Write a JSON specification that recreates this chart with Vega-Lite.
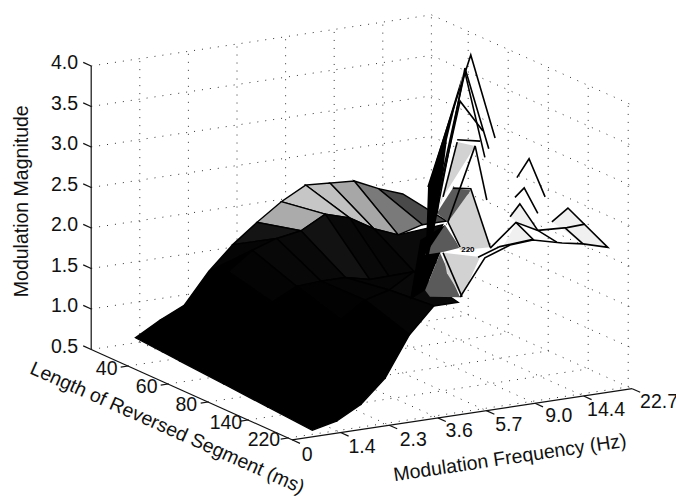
{"$schema":"https://vega.github.io/schema/vega-lite/v6.json","width":676,"height":498,"autosize":{"type":"none"},"padding":0,"background":"white","config":{"view":{"stroke":null}},
"datasets":{
"walls":[
{"f":0,"l":0.08,"m":1,"f2":7,"l2":0.08,"m2":1},{"f":0,"l":0.08,"m":1.5,"f2":7,"l2":0.08,"m2":1.5},{"f":0,"l":0.08,"m":2,"f2":7,"l2":0.08,"m2":2},{"f":0,"l":0.08,"m":2.5,"f2":7,"l2":0.08,"m2":2.5},{"f":0,"l":0.08,"m":3,"f2":7,"l2":0.08,"m2":3},{"f":0,"l":0.08,"m":3.5,"f2":7,"l2":0.08,"m2":3.5},{"f":0,"l":0.08,"m":4,"f2":7,"l2":0.08,"m2":4},{"f":0,"l":0.08,"m":0.5,"f2":7,"l2":0.08,"m2":0.5},
{"f":7,"l":0.08,"m":0.5,"f2":7,"l2":5.1,"m2":0.5},{"f":7,"l":0.08,"m":1,"f2":7,"l2":5.1,"m2":1},{"f":7,"l":0.08,"m":1.5,"f2":7,"l2":5.1,"m2":1.5},{"f":7,"l":0.08,"m":2,"f2":7,"l2":5.1,"m2":2},{"f":7,"l":0.08,"m":2.5,"f2":7,"l2":5.1,"m2":2.5},{"f":7,"l":0.08,"m":3,"f2":7,"l2":5.1,"m2":3},{"f":7,"l":0.08,"m":3.5,"f2":7,"l2":5.1,"m2":3.5},{"f":7,"l":0.08,"m":4,"f2":7,"l2":5.1,"m2":4},
{"f":1,"l":0.08,"m":0.5,"f2":1,"l2":0.08,"m2":4},{"f":2,"l":0.08,"m":0.5,"f2":2,"l2":0.08,"m2":4},{"f":3,"l":0.08,"m":0.5,"f2":3,"l2":0.08,"m2":4},{"f":4,"l":0.08,"m":0.5,"f2":4,"l2":0.08,"m2":4},{"f":5,"l":0.08,"m":0.5,"f2":5,"l2":0.08,"m2":4},{"f":6,"l":0.08,"m":0.5,"f2":6,"l2":0.08,"m2":4},{"f":7,"l":0.08,"m":0.5,"f2":7,"l2":0.08,"m2":4},
{"f":7,"l":1,"m":0.5,"f2":7,"l2":1,"m2":4},{"f":7,"l":2,"m":0.5,"f2":7,"l2":2,"m2":4},{"f":7,"l":3,"m":0.5,"f2":7,"l2":3,"m2":4},{"f":7,"l":4,"m":0.5,"f2":7,"l2":4,"m2":4},{"f":7,"l":5,"m":0.5,"f2":7,"l2":5,"m2":4},
{"f":1,"l":0.08,"m":0.5,"f2":1,"l2":5.1,"m2":0.5},{"f":2,"l":0.08,"m":0.5,"f2":2,"l2":5.1,"m2":0.5},{"f":3,"l":0.08,"m":0.5,"f2":3,"l2":5.1,"m2":0.5},{"f":4,"l":0.08,"m":0.5,"f2":4,"l2":5.1,"m2":0.5},{"f":5,"l":0.08,"m":0.5,"f2":5,"l2":5.1,"m2":0.5},{"f":6,"l":0.08,"m":0.5,"f2":6,"l2":5.1,"m2":0.5},
{"f":0,"l":1,"m":0.5,"f2":7,"l2":1,"m2":0.5},{"f":0,"l":2,"m":0.5,"f2":7,"l2":2,"m2":0.5},{"f":0,"l":3,"m":0.5,"f2":7,"l2":3,"m2":0.5},{"f":0,"l":4,"m":0.5,"f2":7,"l2":4,"m2":0.5},{"f":0,"l":5,"m":0.5,"f2":7,"l2":5,"m2":0.5}
],
"axes":[
{"f":0,"l":0.08,"m":0.5,"f2":0,"l2":0.08,"m2":4},{"f":0,"l":0.08,"m":0.5,"f2":0,"l2":5.1,"m2":0.5},{"f":0,"l":5.1,"m":0.5,"f2":7,"l2":5.1,"m2":0.5},
{"f":0,"l":0.08,"m":0.5,"f2":0,"l2":-0.12,"m2":0.5},{"f":0,"l":0.08,"m":1,"f2":0,"l2":-0.12,"m2":1},{"f":0,"l":0.08,"m":1.5,"f2":0,"l2":-0.12,"m2":1.5},{"f":0,"l":0.08,"m":2,"f2":0,"l2":-0.12,"m2":2},{"f":0,"l":0.08,"m":2.5,"f2":0,"l2":-0.12,"m2":2.5},{"f":0,"l":0.08,"m":3,"f2":0,"l2":-0.12,"m2":3},{"f":0,"l":0.08,"m":3.5,"f2":0,"l2":-0.12,"m2":3.5},{"f":0,"l":0.08,"m":4,"f2":0,"l2":-0.12,"m2":4},
{"f":0,"l":1,"m":0.5,"f2":-0.15,"l2":1,"m2":0.5},{"f":0,"l":2,"m":0.5,"f2":-0.15,"l2":2,"m2":0.5},{"f":0,"l":3,"m":0.5,"f2":-0.15,"l2":3,"m2":0.5},{"f":0,"l":4,"m":0.5,"f2":-0.15,"l2":4,"m2":0.5},{"f":0,"l":5,"m":0.5,"f2":-0.15,"l2":5,"m2":0.5},
{"f":0,"l":5.1,"m":0.5,"f2":0,"l2":5.3,"m2":0.5},{"f":1,"l":5.1,"m":0.5,"f2":1,"l2":5.3,"m2":0.5},{"f":2,"l":5.1,"m":0.5,"f2":2,"l2":5.3,"m2":0.5},{"f":3,"l":5.1,"m":0.5,"f2":3,"l2":5.3,"m2":0.5},{"f":4,"l":5.1,"m":0.5,"f2":4,"l2":5.3,"m2":0.5},{"f":5,"l":5.1,"m":0.5,"f2":5,"l2":5.3,"m2":0.5},{"f":6,"l":5.1,"m":0.5,"f2":6,"l2":5.3,"m2":0.5},{"f":7,"l":5.1,"m":0.5,"f2":7,"l2":5.3,"m2":0.5}
],
"grid":[
{"r":0,"k":11,"f":6,"l":0.58,"m":1.99},{"r":0,"k":10,"f":5.5,"l":0.58,"m":2.10},{"r":0,"k":9,"f":5,"l":0.58,"m":2.24},{"r":0,"k":8,"f":4.5,"l":0.58,"m":2.26},{"r":0,"k":7,"f":4,"l":0.58,"m":2.28},{"r":0,"k":6,"f":3.5,"l":0.58,"m":2.12},{"r":0,"k":5,"f":3,"l":0.58,"m":1.91},{"r":0,"k":4,"f":2.5,"l":0.58,"m":1.68},{"r":0,"k":3,"f":2,"l":0.58,"m":1.39},{"r":0,"k":2,"f":1.5,"l":0.58,"m":1.02},{"r":0,"k":1,"f":1,"l":0.58,"m":0.88},{"r":0,"k":0,"f":0.5,"l":0.58,"m":0.71},
{"r":1,"k":11,"f":6,"l":1.68,"m":1.90},{"r":1,"k":10,"f":5.5,"l":1.68,"m":1.90},{"r":1,"k":9,"f":5,"l":1.68,"m":1.82},{"r":1,"k":8,"f":4.5,"l":1.68,"m":1.94},{"r":1,"k":7,"f":4,"l":1.68,"m":2.12},{"r":1,"k":6,"f":3.5,"l":1.68,"m":2.21},{"r":1,"k":5,"f":3,"l":1.68,"m":2.05},{"r":1,"k":4,"f":2.5,"l":1.68,"m":2.00},{"r":1,"k":3,"f":2,"l":1.68,"m":1.90},{"r":1,"k":2,"f":1.5,"l":1.68,"m":1.68},{"r":1,"k":1,"f":1,"l":1.68,"m":1.38},{"r":1,"k":0,"f":0.5,"l":1.68,"m":0.67},
{"r":2,"k":9,"f":5,"l":2.79,"m":2.19},{"r":2,"k":8,"f":4.5,"l":2.79,"m":1.60},{"r":2,"k":7,"f":4,"l":2.79,"m":1.55},{"r":2,"k":6,"f":3.5,"l":2.79,"m":1.65},{"r":2,"k":5,"f":3,"l":2.79,"m":1.72},{"r":2,"k":4,"f":2.5,"l":2.79,"m":1.72},{"r":2,"k":3,"f":2,"l":2.79,"m":1.70},{"r":2,"k":2,"f":1.5,"l":2.79,"m":1.55},{"r":2,"k":1,"f":1,"l":2.79,"m":1.31},{"r":2,"k":0,"f":0.5,"l":2.79,"m":0.63},
{"r":3,"k":7,"f":4,"l":3.89,"m":2.07},{"r":3,"k":6,"f":3.5,"l":3.89,"m":1.99},{"r":3,"k":5,"f":3,"l":3.89,"m":1.81},{"r":3,"k":4,"f":2.5,"l":3.89,"m":1.73},{"r":3,"k":3,"f":2,"l":3.89,"m":1.53},{"r":3,"k":2,"f":1.5,"l":3.89,"m":1.27},{"r":3,"k":1,"f":1,"l":3.89,"m":0.98},{"r":3,"k":0,"f":0.5,"l":3.89,"m":0.59},
{"r":4,"k":6,"f":3.5,"l":5,"m":1.86},{"r":4,"k":5,"f":3,"l":5,"m":1.86},{"r":4,"k":4,"f":2.5,"l":5,"m":1.55},{"r":4,"k":3,"f":2,"l":5,"m":1.06},{"r":4,"k":2,"f":1.5,"l":5,"m":0.78},{"r":4,"k":1,"f":1,"l":5,"m":0.62},{"r":4,"k":0,"f":0.5,"l":5,"m":0.55}
],
"patches":[
{"p":"fill","tone":"black","o":0,"f":5.19,"l":2,"m":1.81},{"p":"fill","tone":"black","o":1,"f":5.70,"l":2,"m":1.95},{"p":"fill","tone":"black","o":2,"f":5.60,"l":2,"m":1.61},{"p":"fill","tone":"black","o":3,"f":5.29,"l":2,"m":1.18},{"p":"fill","tone":"black","o":4,"f":4.98,"l":2,"m":1.09},
{"p":"p6","tone":"dark","o":0,"f":5.60,"l":2,"m":1.61},{"p":"p6","tone":"dark","o":1,"f":6.01,"l":2,"m":1.03},{"p":"p6","tone":"dark","o":2,"f":5.39,"l":2,"m":1.09},{"p":"p6","tone":"dark","o":3,"f":5.29,"l":2,"m":1.18},
{"p":"p5","tone":"light","o":0,"f":5.66,"l":2,"m":1.61},{"p":"p5","tone":"light","o":1,"f":6.42,"l":2,"m":1.49},{"p":"p5","tone":"light","o":2,"f":6.05,"l":2,"m":1.03},{"p":"p5","tone":"light","o":3,"f":5.74,"l":2,"m":1.35},
{"p":"p4","tone":"dark","o":0,"f":5.70,"l":2,"m":1.95},{"p":"p4","tone":"dark","o":1,"f":6.01,"l":2,"m":1.64},{"p":"p4","tone":"dark","o":2,"f":5.66,"l":2,"m":1.62},{"p":"p4","tone":"dark","o":3,"f":5.29,"l":2,"m":1.62},
{"p":"p3","tone":"light","o":0,"f":6.23,"l":2,"m":2.33},{"p":"p3","tone":"light","o":1,"f":6.63,"l":2,"m":1.59},{"p":"p3","tone":"light","o":2,"f":6.01,"l":2,"m":1.61},{"p":"p3","tone":"light","o":3,"f":5.76,"l":2,"m":1.98},
{"p":"p2","tone":"dark","o":0,"f":5.86,"l":2,"m":2.39},{"p":"p2","tone":"dark","o":1,"f":6.23,"l":2,"m":2.33},{"p":"p2","tone":"dark","o":2,"f":5.76,"l":2,"m":1.98},{"p":"p2","tone":"dark","o":3,"f":5.53,"l":2,"m":2.11},
{"p":"p1","tone":"light","o":0,"f":5.95,"l":2,"m":2.95},{"p":"p1","tone":"light","o":1,"f":6.32,"l":2,"m":2.87},{"p":"p1","tone":"light","o":2,"f":5.66,"l":2,"m":2.30},{"p":"p1","tone":"light","o":3,"f":5.56,"l":2,"m":2.15},
{"p":"p7","tone":"pale","o":0,"f":4.71,"l":5,"m":2.74},{"p":"p7","tone":"pale","o":1,"f":5.04,"l":5,"m":2.51},{"p":"p7","tone":"pale","o":2,"f":4.42,"l":5,"m":2.46},
{"p":"p8","tone":"pale","o":0,"f":5.76,"l":5,"m":2.82},{"p":"p8","tone":"pale","o":1,"f":6.56,"l":5,"m":2.27},{"p":"p8","tone":"pale","o":2,"f":6.07,"l":5,"m":2.35},{"p":"p8","tone":"pale","o":3,"f":5.66,"l":5,"m":2.56},{"p":"p8","tone":"pale","o":4,"f":5.43,"l":5,"m":2.68},
{"p":"p9","tone":"pale","o":0,"f":4.77,"l":5,"m":2.97},{"p":"p9","tone":"pale","o":1,"f":5.14,"l":5,"m":2.60},{"p":"p9","tone":"pale","o":2,"f":4.71,"l":5,"m":2.74},{"p":"p9","tone":"pale","o":3,"f":4.57,"l":5,"m":2.82},
{"p":"band","tone":"black","o":0,"f":5.35,"l":2,"m":2.45},{"p":"band","tone":"black","o":1,"f":6.07,"l":2,"m":3.79},{"p":"band","tone":"black","o":2,"f":5.74,"l":2,"m":3.00},{"p":"band","tone":"black","o":3,"f":5.56,"l":2,"m":2.15},{"p":"band","tone":"black","o":4,"f":5.29,"l":2,"m":1.39}
],
"ridges":[
{"id":"a","o":0,"f":5.35,"l":2,"m":2.45},{"id":"a","o":1,"f":6.23,"l":2,"m":4.00},{"id":"a","o":2,"f":6.73,"l":2,"m":2.93},
{"id":"b","o":0,"f":5.53,"l":2,"m":2.11},{"id":"b","o":1,"f":6.11,"l":2,"m":3.85},{"id":"b","o":2,"f":6.60,"l":2,"m":2.81},
{"id":"c","o":0,"f":5.39,"l":2,"m":1.91},{"id":"c","o":1,"f":6.11,"l":2,"m":3.80},{"id":"c","o":2,"f":6.52,"l":2,"m":2.71},
{"id":"d","o":0,"f":5.60,"l":2,"m":2.39},{"id":"d","o":1,"f":6.01,"l":2,"m":3.45},{"id":"d","o":2,"f":6.48,"l":2,"m":3.04},
{"id":"e","o":0,"f":5.95,"l":2,"m":2.98},{"id":"e","o":1,"f":6.42,"l":2,"m":2.92},
{"id":"f","o":0,"f":6.32,"l":2,"m":2.87},{"id":"f","o":1,"f":6.56,"l":2,"m":2.18},
{"id":"g","o":0,"f":5.86,"l":2,"m":2.39},{"id":"g","o":1,"f":6.23,"l":2,"m":2.35},{"id":"g","o":2,"f":6.63,"l":2,"m":1.59},
{"id":"h","o":0,"f":6.63,"l":2,"m":1.58},{"id":"h","o":1,"f":4.69,"l":5,"m":2.74},{"id":"h","o":2,"f":5.14,"l":5,"m":2.60},{"id":"h","o":3,"f":5.53,"l":5,"m":2.42},
{"id":"i","o":0,"f":6.38,"l":2,"m":1.49},{"id":"i","o":1,"f":4.36,"l":5,"m":2.47},{"id":"i","o":2,"f":5.04,"l":5,"m":2.50},{"id":"i","o":3,"f":4.69,"l":5,"m":2.74},
{"id":"j","o":0,"f":6.01,"l":2,"m":1.03},{"id":"j","o":1,"f":6.52,"l":2,"m":1.47},{"id":"j","o":2,"f":4.57,"l":5,"m":2.47},{"id":"j","o":3,"f":5.04,"l":5,"m":2.49},{"id":"j","o":4,"f":5.64,"l":5,"m":2.40},{"id":"j","o":5,"f":6.07,"l":5,"m":2.35},{"id":"j","o":6,"f":6.58,"l":5,"m":2.26},{"id":"j","o":7,"f":5.76,"l":5,"m":2.82},{"id":"j","o":8,"f":5.43,"l":5,"m":2.68},
{"id":"k","o":0,"f":4.71,"l":5,"m":3.29},{"id":"k","o":1,"f":4.96,"l":5,"m":3.50},{"id":"k","o":2,"f":5.29,"l":5,"m":3.00},
{"id":"m","o":0,"f":4.67,"l":5,"m":3.05},{"id":"m","o":1,"f":4.86,"l":5,"m":3.15},{"id":"m","o":2,"f":5.14,"l":5,"m":2.81},
{"id":"n","o":0,"f":4.57,"l":5,"m":2.82},{"id":"n","o":1,"f":4.77,"l":5,"m":2.96},{"id":"n","o":2,"f":5.14,"l":5,"m":2.60},
{"id":"p","o":0,"f":5.14,"l":5,"m":2.60},{"id":"p","o":1,"f":5.74,"l":5,"m":2.58},{"id":"p","o":2,"f":6.11,"l":5,"m":2.59},
{"id":"q","o":0,"f":5.70,"l":5,"m":2.58},{"id":"q","o":1,"f":6.07,"l":5,"m":2.35},
{"id":"s","o":0,"f":5.95,"l":2,"m":2.95},{"id":"s","o":1,"f":5.66,"l":2,"m":2.30},
{"id":"t","o":0,"f":6.32,"l":2,"m":2.87},{"id":"t","o":1,"f":5.76,"l":2,"m":1.98},{"id":"t","o":2,"f":6.01,"l":2,"m":1.65},
{"id":"u","o":0,"f":5.66,"l":2,"m":1.61},{"id":"u","o":1,"f":6.05,"l":2,"m":1.03}
],
"labels":[
{"t":"ztick","s":"0.5","f":0,"l":-0.25,"m":0.5},{"t":"ztick","s":"1.0","f":0,"l":-0.25,"m":1},{"t":"ztick","s":"1.5","f":0,"l":-0.25,"m":1.5},{"t":"ztick","s":"2.0","f":0,"l":-0.25,"m":2},{"t":"ztick","s":"2.5","f":0,"l":-0.25,"m":2.5},{"t":"ztick","s":"3.0","f":0,"l":-0.25,"m":3},{"t":"ztick","s":"3.5","f":0,"l":-0.25,"m":3.5},{"t":"ztick","s":"4.0","f":0,"l":-0.25,"m":4},
{"t":"tick","s":"40","f":-0.43,"l":0.99,"m":0.5},{"t":"tick","s":"60","f":-0.43,"l":1.99,"m":0.5},{"t":"tick","s":"80","f":-0.43,"l":2.98,"m":0.5},{"t":"tick","s":"140","f":-0.43,"l":3.97,"m":0.5},{"t":"tick","s":"220","f":-0.43,"l":4.92,"m":0.5},
{"t":"tick","s":"0","f":-0.29,"l":5.83,"m":0.5},{"t":"tick","s":"1.4","f":0.83,"l":5.84,"m":0.5},{"t":"tick","s":"2.3","f":1.86,"l":5.87,"m":0.5},{"t":"tick","s":"3.6","f":2.88,"l":5.78,"m":0.5},{"t":"tick","s":"5.7","f":3.85,"l":5.84,"m":0.5},{"t":"tick","s":"9.0","f":4.93,"l":5.78,"m":0.5},{"t":"tick","s":"14.4","f":5.87,"l":5.82,"m":0.5},{"t":"tick","s":"22.7","f":6.96,"l":5.82,"m":0.5},
{"t":"ztitle","s":"Modulation Magnitude","f":0,"l":-1.65,"m":1.945},
{"t":"ltitle","s":"Length of Reversed Segment (ms)","f":-1.52,"l":3.83,"m":0.5},
{"t":"ftitle","s":"Modulation Frequency (Hz)","f":2.74,"l":7.22,"m":0.5},
{"t":"small","s":"220","f":6.17,"l":2,"m":1.6}
]
},
"encoding":{
"x":{"field":"px","type":"quantitative","scale":{"domain":[0,676]},"axis":null},
"y":{"field":"py","type":"quantitative","scale":{"domain":[498,0]},"axis":null}
},
"layer":[
{"data":{"name":"walls"},"transform":[{"calculate":"88+40*datum.l+48.6*datum.f","as":"px"},{"calculate":"348+18*datum.l-7.3*datum.f-81*(datum.m-0.5)","as":"py"},{"calculate":"88+40*datum.l2+48.6*datum.f2","as":"px2"},{"calculate":"348+18*datum.l2-7.3*datum.f2-81*(datum.m2-0.5)","as":"py2"}],
"mark":{"type":"rule","stroke":"#333333","strokeWidth":1,"strokeDash":[1,7]},"encoding":{"x2":{"field":"px2"},"y2":{"field":"py2"}}},
{"data":{"name":"axes"},"transform":[{"calculate":"88+40*datum.l+48.6*datum.f","as":"px"},{"calculate":"348+18*datum.l-7.3*datum.f-81*(datum.m-0.5)","as":"py"},{"calculate":"88+40*datum.l2+48.6*datum.f2","as":"px2"},{"calculate":"348+18*datum.l2-7.3*datum.f2-81*(datum.m2-0.5)","as":"py2"}],
"mark":{"type":"rule","stroke":"#111111","strokeWidth":1.2},"encoding":{"x2":{"field":"px2"},"y2":{"field":"py2"}}},
{"data":{"name":"grid"},"transform":[
{"calculate":"[0,1,2,3]","as":"cs"},{"flatten":["cs"]},
{"calculate":"datum.r+(datum.cs>=2?1:0)","as":"cellR"},
{"calculate":"datum.k+((datum.cs==1||datum.cs==2)?1:0)","as":"cellK"},
{"filter":"datum.cellR>=1 && datum.cellR<=4 && datum.cellK>=1 && datum.cellK<=[0,11,9,7,6][datum.cellR]"},
{"calculate":"'c'+datum.cellR+'_'+datum.cellK","as":"cell"},
{"joinaggregate":[{"op":"mean","field":"m","as":"shade"}],"groupby":["cell"]},
{"calculate":"88+40*datum.l+48.6*datum.f","as":"px"},{"calculate":"348+18*datum.l-7.3*datum.f-81*(datum.m-0.5)","as":"py"}],
"mark":{"type":"line","interpolate":"linear-closed","stroke":"#000000","strokeWidth":1.4},
"encoding":{"detail":{"field":"cell"},"order":{"field":"cs"},
"fill":{"field":"shade","type":"quantitative","legend":null,"scale":{"domain":[0.5,1.6,1.9,1.96,2.04,2.1,2.2,4],"range":["#000000","#000000","#0a0a0a","#3c3c3c","#999999","#bbbbbb","#c8c8c8","#ffffff"]}}}},
{"data":{"name":"patches"},"transform":[{"calculate":"88+40*datum.l+48.6*datum.f","as":"px"},{"calculate":"348+18*datum.l-7.3*datum.f-81*(datum.m-0.5)","as":"py"}],
"mark":{"type":"line","interpolate":"linear-closed","strokeWidth":0},
"encoding":{"detail":{"field":"p"},"order":{"field":"o"},
"fill":{"field":"tone","type":"nominal","legend":null,"scale":{"domain":["black","dark","light","pale"],"range":["#000000","#5a5a5a","#d2d2d2","#f0f0f0"]}}}},
{"data":{"name":"ridges"},"transform":[{"calculate":"88+40*datum.l+48.6*datum.f","as":"px"},{"calculate":"348+18*datum.l-7.3*datum.f-81*(datum.m-0.5)","as":"py"}],
"mark":{"type":"line","stroke":"#000000","strokeWidth":1.6},
"encoding":{"detail":{"field":"id"},"order":{"field":"o"}}},
{"data":{"name":"labels"},"transform":[{"filter":"datum.t=='ztick'"},{"calculate":"88+40*datum.l+48.6*datum.f","as":"px"},{"calculate":"348+18*datum.l-7.3*datum.f-81*(datum.m-0.5)","as":"py"}],
"mark":{"type":"text","align":"right","baseline":"middle","dy":3,"font":"Liberation Sans","fontSize":19.5,"fill":"#111111"},"encoding":{"text":{"field":"s"}}},
{"data":{"name":"labels"},"transform":[{"filter":"datum.t=='tick'"},{"calculate":"88+40*datum.l+48.6*datum.f","as":"px"},{"calculate":"348+18*datum.l-7.3*datum.f-81*(datum.m-0.5)","as":"py"}],
"mark":{"type":"text","align":"center","baseline":"middle","font":"Liberation Sans","fontSize":19.5,"fill":"#111111"},"encoding":{"text":{"field":"s"}}},
{"data":{"name":"labels"},"transform":[{"filter":"datum.t=='ztitle'"},{"calculate":"88+40*datum.l+48.6*datum.f","as":"px"},{"calculate":"348+18*datum.l-7.3*datum.f-81*(datum.m-0.5)","as":"py"}],
"mark":{"type":"text","align":"center","baseline":"middle","angle":270,"font":"Liberation Sans","fontSize":19.5,"fill":"#111111"},"encoding":{"text":{"field":"s"}}},
{"data":{"name":"labels"},"transform":[{"filter":"datum.t=='ltitle'"},{"calculate":"88+40*datum.l+48.6*datum.f","as":"px"},{"calculate":"348+18*datum.l-7.3*datum.f-81*(datum.m-0.5)","as":"py"}],
"mark":{"type":"text","align":"center","baseline":"middle","angle":24,"font":"Liberation Sans","fontSize":19.5,"fill":"#111111"},"encoding":{"text":{"field":"s"}}},
{"data":{"name":"labels"},"transform":[{"filter":"datum.t=='ftitle'"},{"calculate":"88+40*datum.l+48.6*datum.f","as":"px"},{"calculate":"348+18*datum.l-7.3*datum.f-81*(datum.m-0.5)","as":"py"}],
"mark":{"type":"text","align":"center","baseline":"middle","angle":351.5,"font":"Liberation Sans","fontSize":19.5,"fill":"#111111"},"encoding":{"text":{"field":"s"}}},
{"data":{"name":"labels"},"transform":[{"filter":"datum.t=='small'"},{"calculate":"88+40*datum.l+48.6*datum.f","as":"px"},{"calculate":"348+18*datum.l-7.3*datum.f-81*(datum.m-0.5)","as":"py"}],
"mark":{"type":"text","align":"center","baseline":"middle","font":"Liberation Sans","fontWeight":"bold","fontSize":8,"fill":"#000000"},"encoding":{"text":{"field":"s"}}}
]}
